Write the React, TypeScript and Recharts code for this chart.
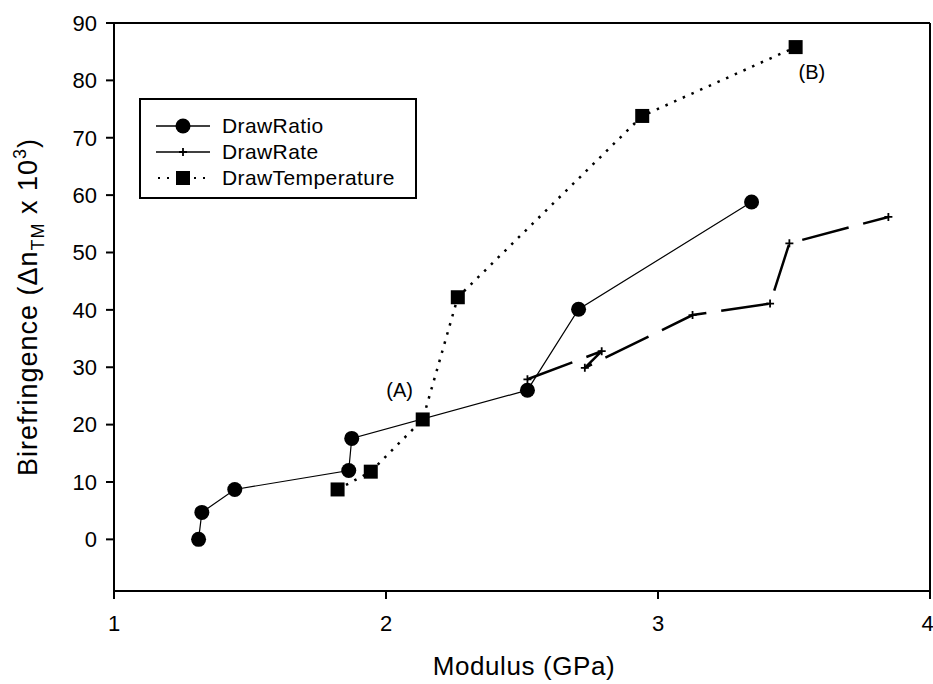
import React from "react";
import {
  LineChart,
  Line,
  XAxis,
  YAxis,
  Legend,
  ReferenceLine,
  ReferenceDot,
} from "recharts";

// DrawRatio series (circles)
const ratioX = [1.311, 1.323, 1.444, 1.863, 1.874, 2.52, 2.708, 3.344];
const ratioY = [0, 4.7, 8.7, 12.0, 17.6, 26.0, 40.1, 58.8];

// DrawRate series (small crosses, dashed)
const rateX = [2.52, 2.793, 2.731, 3.127, 3.412, 3.483, 3.847];
const rateY = [27.9, 32.8, 29.9, 39.1, 41.1, 51.6, 56.2];

// DrawTemperature series (squares, dotted)
const tempX = [1.822, 1.944, 2.135, 2.264, 2.942, 3.506];
const tempY = [8.7, 11.8, 20.9, 42.2, 73.8, 85.8];

const xTicks = [1, 2, 3, 4];
const yTicks = [0, 10, 20, 30, 40, 50, 60, 70, 80, 90];

const seriesNames = ["DrawRatio", "DrawRate", "DrawTemperature"];

const toPoints = (xs: number[], ys: number[]) => xs.map((x, i) => ({ x, y: ys[i] }));

const ratioData = toPoints(ratioX, ratioY);
const rateData = toPoints(rateX, rateY);
const tempData = toPoints(tempX, tempY);

const FONT = "'Liberation Sans', Arial, sans-serif";

const CircleDot = (props: any) => {
  const { cx, cy } = props;
  if (cx == null || cy == null) return null;
  return <circle cx={cx} cy={cy} r={7.5} fill="#000" />;
};

const SquareDot = (props: any) => {
  const { cx, cy } = props;
  if (cx == null || cy == null) return null;
  return <rect x={cx - 7} y={cy - 7} width={14} height={14} fill="#000" />;
};

const CrossDot = (props: any) => {
  const { cx, cy } = props;
  if (cx == null || cy == null) return null;
  return (
    <path
      d={`M${cx - 4},${cy}H${cx + 4}M${cx},${cy - 4}V${cy + 4}`}
      stroke="#000"
      strokeWidth={1.8}
    />
  );
};

const LegendIcon = ({ kind }: { kind: number }) => (
  <svg width={54} height={20} style={{ display: "block" }}>
    {kind === 2 ? (
      <line x1={2} y1={10} x2={52} y2={10} stroke="#000" strokeWidth={2} strokeDasharray="2 7" />
    ) : (
      <line x1={0} y1={10} x2={54} y2={10} stroke="#000" strokeWidth={kind === 1 ? 1.6 : 1.4} />
    )}
    {kind === 0 && <circle cx={27} cy={10} r={7.5} fill="#000" />}
    {kind === 1 && <path d="M23,10H31M27,6V14" stroke="#000" strokeWidth={1.8} />}
    {kind === 2 && <rect x={20} y={3} width={14} height={14} fill="#000" />}
  </svg>
);

const renderLegend = () => (
  <div
    style={{
      border: "2px solid #000",
      width: 278,
      height: 101,
      boxSizing: "border-box",
      padding: "13px 0 0 15px",
      background: "#fff",
    }}
  >
    {seriesNames.map((name, i) => (
      <div key={name} style={{ display: "flex", alignItems: "center", height: 26 }}>
        <LegendIcon kind={i} />
        <span
          style={{
            marginLeft: 12,
            fontFamily: FONT,
            fontSize: 21,
            letterSpacing: 0.4,
            color: "#000",
          }}
        >
          {name}
        </span>
      </div>
    ))}
  </div>
);

const tickStyle = { fill: "#000", fontSize: 22, fontFamily: FONT };

export default function App() {
  return (
    <div style={{ width: 933, height: 684, position: "relative", background: "#fff" }}>
      <style>{`body{margin:0;background:#fff}`}</style>
      <LineChart width={933} height={684} margin={{ top: 23, right: 3, bottom: 0, left: 0 }}>
        <XAxis
          type="number"
          dataKey="x"
          domain={[1, 4]}
          ticks={xTicks}
          height={93}
          tickSize={8}
          tickMargin={16}
          stroke="#000"
          strokeWidth={2}
          tick={tickStyle}
          allowDataOverflow
        />
        <YAxis
          type="number"
          dataKey="y"
          domain={[-9, 90]}
          ticks={yTicks}
          width={114}
          tickSize={8}
          tickMargin={9}
          stroke="#000"
          strokeWidth={2}
          tick={tickStyle}
          allowDataOverflow
        />
        <ReferenceLine y={90} stroke="#000" strokeWidth={2} />
        <ReferenceLine x={4} stroke="#000" strokeWidth={2} />
        <Line
          data={tempData}
          dataKey="y"
          name="DrawTemperature"
          stroke="#000"
          strokeWidth={2.5}
          strokeDasharray="2.5 7"
          dot={<SquareDot />}
          activeDot={false}
          isAnimationActive={false}
        />
        <Line
          data={rateData}
          dataKey="y"
          name="DrawRate"
          stroke="#000"
          strokeWidth={2.5}
          strokeDasharray="48 15"
          dot={<CrossDot />}
          activeDot={false}
          isAnimationActive={false}
        />
        <Line
          data={ratioData}
          dataKey="y"
          name="DrawRatio"
          stroke="#000"
          strokeWidth={1.2}
          dot={<CircleDot />}
          activeDot={false}
          isAnimationActive={false}
        />
        <ReferenceDot
          x={2.05}
          y={26.1}
          r={0}
          label={{ value: "(A)", position: "center", fill: "#000", fontSize: 20, fontFamily: FONT }}
        />
        <ReferenceDot
          x={3.566}
          y={81.4}
          r={0}
          label={{ value: "(B)", position: "center", fill: "#000", fontSize: 20, fontFamily: FONT }}
        />
        <Legend
          content={renderLegend}
          layout="horizontal"
          verticalAlign="middle"
          align="center"
          wrapperStyle={{ left: 139, top: 98, width: 278, height: 101 }}
        />
        <text
          transform="translate(37,307) rotate(-90)"
          textAnchor="middle"
          fontFamily={FONT}
          fontSize={27}
          letterSpacing={1}
          fill="#000"
        >
          Birefringence (Δn
          <tspan fontSize={18} dy={7}>TM</tspan>
          <tspan dy={-7}> x 10</tspan>
          <tspan fontSize={18} dy={-11}>3</tspan>
          <tspan dy={11}>)</tspan>
        </text>
        <text
          x={524}
          y={675}
          textAnchor="middle"
          fontFamily={FONT}
          fontSize={26}
          letterSpacing={0.6}
          fill="#000"
        >
          Modulus (GPa)
        </text>
      </LineChart>
    </div>
  );
}
